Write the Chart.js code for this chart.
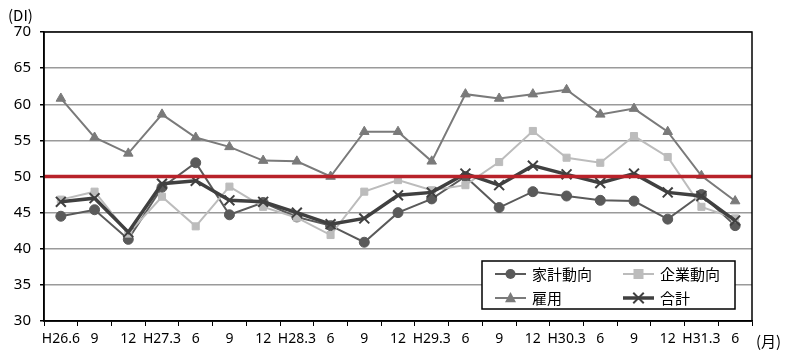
<!DOCTYPE html>
<html>
<head>
<meta charset="utf-8">
<script src="https://cdn.jsdelivr.net/npm/chart.js@4/dist/chart.umd.min.js"></script>
<style>
html,body{margin:0;padding:0;background:#fff;}
#wrap{width:791px;height:356px;position:relative;}
</style>
</head>
<body>
<div id="wrap"><canvas id="c" width="791" height="356"></canvas></div>
<script>
const categories = ["H26.6","9","12","H27.3","6","9","12","H28.3","6","9","12","H29.3","6","9","12","H30.3","6","9","12","H31.3","6"];
const household = [44.5,45.4,41.3,48.5,51.9,44.7,46.4,44.4,43.2,40.9,45.0,46.9,50.0,45.7,47.9,47.3,46.7,46.6,44.1,47.5,43.2];
const corporate = [46.8,47.9,42.1,47.2,43.1,48.6,45.8,44.3,41.9,47.9,49.5,48.1,48.8,52.0,56.3,52.6,51.9,55.6,52.7,45.8,44.2];
const employment = [60.8,55.4,53.2,58.6,55.4,54.1,52.2,52.1,50.0,56.2,56.2,52.1,61.4,60.8,61.4,62.0,58.6,59.4,56.2,50.1,46.6];
const total = [46.5,47.0,42.3,49.0,49.4,46.7,46.5,45.0,43.4,44.2,47.4,47.8,50.4,48.8,51.5,50.3,49.1,50.4,47.8,47.3,43.9];
const seriesNames = ["家計動向","企業動向","雇用","合計"];
const yTicks = {min:30, max:70, step:5};
const referenceLevel = 50;

const FONT = "'Noto Sans', 'DejaVu Sans', sans-serif";
const CJK = "'Noto Sans CJK JP', sans-serif";

const frameAndRef = {
  id:'frameAndRef',
  afterDatasetsDraw(chart){
    const {ctx, chartArea:a, scales:{y}} = chart;
    ctx.save();
    const yy = y.getPixelForValue(referenceLevel);
    ctx.strokeStyle = '#b8222a';
    ctx.lineWidth = 3.5;
    ctx.beginPath(); ctx.moveTo(a.left, yy); ctx.lineTo(a.right, yy); ctx.stroke();
    ctx.strokeStyle = '#000';
    ctx.lineWidth = 1.5;
    ctx.strokeRect(a.left, a.top, a.right-a.left, a.bottom-a.top);
    ctx.restore();
  },
  afterDraw(chart){
    const {ctx, chartArea:a} = chart;
    ctx.save();
    ctx.fillStyle = '#000';
    ctx.font = "15px " + CJK;
    ctx.textBaseline = 'middle';
    ctx.textAlign = 'left';
    ctx.fillText('(DI)', 8, 15);
    ctx.fillText('(月)', a.right + 4, 341);
    const bx = 482, by = 261, bw = 253, bh = 48;
    ctx.fillStyle = '#fff';
    ctx.fillRect(bx, by, bw, bh);
    ctx.strokeStyle = '#000';
    ctx.lineWidth = 1.5;
    ctx.strokeRect(bx, by, bw, bh);
    const ds = chart.data.datasets;
    const pos = [[495,274],[623,274],[495,298],[623,298]];
    ds.forEach((d,i)=>{
      const [lx,ly] = pos[i];
      const len = 31;
      ctx.strokeStyle = d.borderColor;
      ctx.lineWidth = d.borderWidth;
      ctx.beginPath(); ctx.moveTo(lx, ly); ctx.lineTo(lx+len, ly); ctx.stroke();
      const cx = lx + len/2;
      ctx.fillStyle = d.pointBackgroundColor;
      ctx.strokeStyle = d.pointBorderColor;
      ctx.lineWidth = 1;
      const r = d.pointRadius;
      if (d.pointStyle === 'circle'){
        ctx.beginPath(); ctx.arc(cx, ly, r, 0, Math.PI*2); ctx.fill();
      } else if (d.pointStyle === 'rect'){
        ctx.fillRect(cx-r, ly-r, 2*r, 2*r);
      } else if (d.pointStyle === 'triangle'){
        ctx.beginPath();
        ctx.moveTo(cx, ly-r*1.1); ctx.lineTo(cx+r, ly+r*0.75); ctx.lineTo(cx-r, ly+r*0.75);
        ctx.closePath(); ctx.fill();
      } else {
        ctx.lineWidth = d.pointBorderWidth;
        ctx.beginPath();
        ctx.moveTo(cx-r*0.75, ly-r*0.75); ctx.lineTo(cx+r*0.75, ly+r*0.75);
        ctx.moveTo(cx+r*0.75, ly-r*0.75); ctx.lineTo(cx-r*0.75, ly+r*0.75);
        ctx.stroke();
      }
      ctx.fillStyle = '#000';
      ctx.font = "15px " + CJK;
      ctx.textAlign = 'left';
      ctx.textBaseline = 'middle';
      ctx.fillText(seriesNames[i], lx + len + 6, ly);
    });
    ctx.restore();
  }
};

new Chart(document.getElementById('c'), {
  type:'line',
  data:{
    labels: categories,
    datasets:[
      {label:seriesNames[0], data:household, borderColor:'#5a5a5a', backgroundColor:'#5a5a5a',
       pointBackgroundColor:'#5a5a5a', pointBorderColor:'#5a5a5a', pointStyle:'circle', pointRadius:5, pointBorderWidth:1,
       borderWidth:2, tension:0, order:4},
      {label:seriesNames[1], data:corporate, borderColor:'#bcbcbc', backgroundColor:'#bcbcbc',
       pointBackgroundColor:'#bcbcbc', pointBorderColor:'#bcbcbc', pointStyle:'rect', pointRadius:5, pointBorderWidth:1,
       borderWidth:2, tension:0, order:3},
      {label:seriesNames[2], data:employment, borderColor:'#7a7a7a', backgroundColor:'#7a7a7a',
       pointBackgroundColor:'#7a7a7a', pointBorderColor:'#7a7a7a', pointStyle:'triangle', pointRadius:5.5, pointBorderWidth:1,
       borderWidth:2, tension:0, order:2},
      {label:seriesNames[3], data:total, borderColor:'#404040', backgroundColor:'#404040',
       pointBackgroundColor:'#404040', pointBorderColor:'#404040', pointStyle:'crossRot', pointRadius:7, pointBorderWidth:2,
       borderWidth:3.5, tension:0, order:1}
    ]
  },
  options:{
    responsive:false,
    animation:false,
    devicePixelRatio:1,
    layout:{padding:{top:32,right:39,left:0,bottom:0}},
    plugins:{legend:{display:false}, tooltip:{enabled:false}, title:{display:false}},
    scales:{
      x:{
        offset:true,
        grid:{offset:true, drawOnChartArea:false, drawTicks:true, tickLength:5, color:'#000', lineWidth:1},
        border:{color:'#000', width:1.5},
        ticks:{autoSkip:false, maxRotation:0, padding:5, color:'#000', font:{family:FONT, size:14}},
        afterFit(s){ s.height = 35; }
      },
      y:{
        min:yTicks.min, max:yTicks.max,
        grid:{color:'#9a9a9a', lineWidth:1.5, tickLength:4, tickColor:'#000'},
        border:{color:'#000', width:1.5},
        ticks:{stepSize:yTicks.step, padding:9, color:'#000', font:{family:FONT, size:15}},
        afterFit(s){ s.width = 44; }
      }
    }
  },
  plugins:[frameAndRef]
});
</script>
</body>
</html>
